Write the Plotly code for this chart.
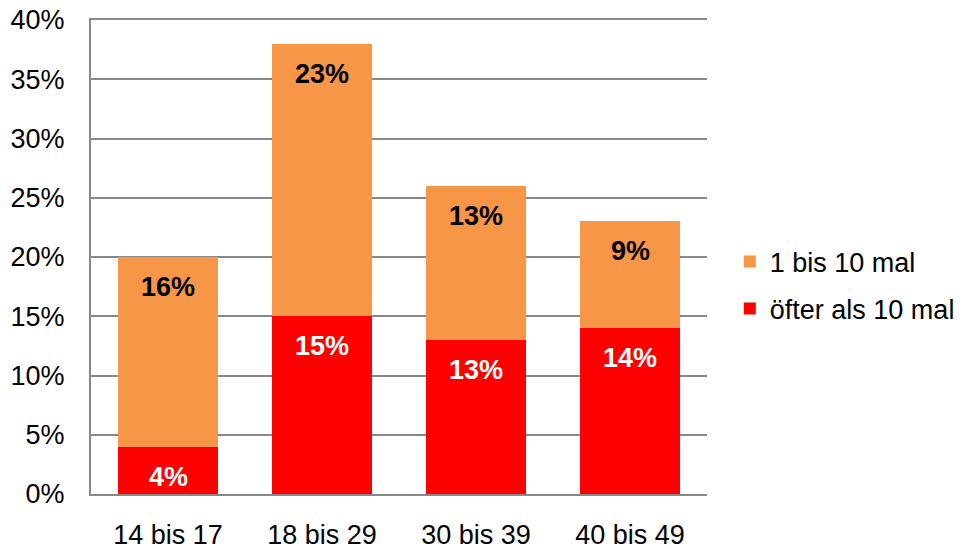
import plotly.graph_objects as go

categories = ["14 bis 17", "18 bis 29", "30 bis 39", "40 bis 49"]
often = [4, 15, 13, 14]          # öfter als 10 mal
some = [16, 23, 13, 9]           # 1 bis 10 mal
tick_vals = [0, 5, 10, 15, 20, 25, 30, 35, 40]
tick_text = ["0%", "5%", "10%", "15%", "20%", "25%", "30%", "35%", "40%"]

RED = "#FF0000"
ORANGE = "#F79646"
FONT = "Liberation Sans, Arial, sans-serif"
FS = 27

fig = go.Figure()
fig.add_trace(go.Bar(x=categories, y=often, name="öfter als 10 mal", legendgroup="a",
                     legendrank=2, marker=dict(color=RED, line=dict(width=0))))
fig.add_trace(go.Bar(x=categories, y=some, name="1 bis 10 mal", legendgroup="b",
                     legendrank=1, marker=dict(color=ORANGE, line=dict(width=0))))

for c, o, s in zip(categories, often, some):
    fig.add_annotation(x=c, y=o, text=f"<b>{o}%</b>", showarrow=False,
                       yanchor="middle", yshift=-30,
                       font=dict(family=FONT, size=FS, color="white"))
    fig.add_annotation(x=c, y=o + s, text=f"<b>{s}%</b>", showarrow=False,
                       yanchor="middle", yshift=-30,
                       font=dict(family=FONT, size=FS, color="black"))

fig.update_layout(
    width=955, height=541,
    margin=dict(l=83, r=256, t=12, b=55, autoexpand=False),
    barmode="stack", bargap=0.35,
    plot_bgcolor="white", paper_bgcolor="white",
    font=dict(family=FONT, size=FS, color="black"),
    showlegend=True,
    legend=dict(traceorder="grouped", x=1.037, y=0.44, xanchor="left", yanchor="middle",
                font=dict(family=FONT, size=FS), itemwidth=30, tracegroupgap=9,
                bgcolor="rgba(0,0,0,0)"),
    xaxis=dict(showline=True, linecolor="#888888", linewidth=2, mirror=True, showgrid=False,
               ticks="", ticklabelstandoff=16, tickfont=dict(size=FS), automargin=False),
    yaxis=dict(range=[0, 40], tickvals=tick_vals, ticktext=tick_text,
               showgrid=True, gridcolor="#888888", gridwidth=1.5,
               showline=True, linecolor="#888888", linewidth=2,
               zeroline=False, ticks="", ticklabelstandoff=19,
               ticklabeloverflow="allow",
               tickfont=dict(size=FS), automargin=False),
)

fig.write_html("out.html")
